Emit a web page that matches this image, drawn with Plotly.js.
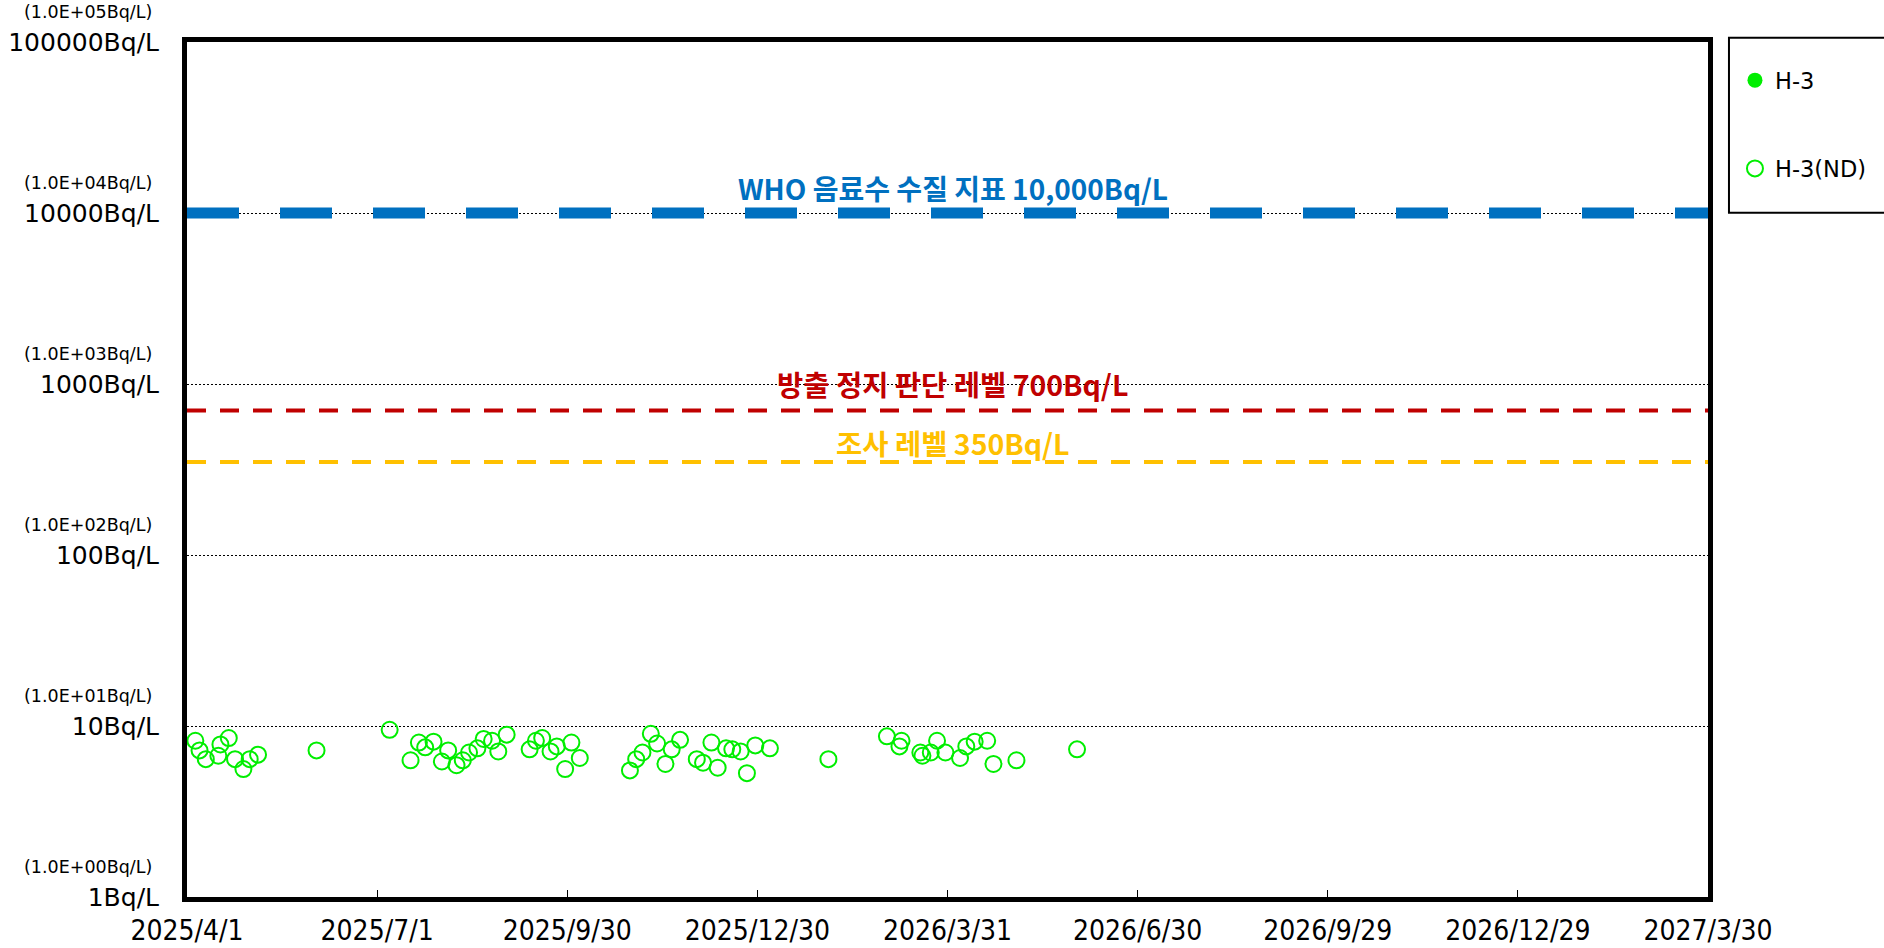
<!DOCTYPE html>
<html>
<head>
<meta charset="utf-8">
<script src="https://cdn.plot.ly/plotly-3.0.1.min.js"></script>
<style>
  html, body { margin: 0; padding: 0; background: #fff; }
  #chart { width: 1884px; height: 948px; }
</style>
</head>
<body>
<div id="chart"></div>
<script>
// ---------- data ----------
const ndDates = [
  '2025-04-05','2025-04-07','2025-04-10','2025-04-16','2025-04-17','2025-04-21','2025-04-24','2025-04-28',
  '2025-05-01','2025-05-05','2025-06-02','2025-07-07','2025-07-17','2025-07-21','2025-07-24','2025-07-28',
  '2025-08-01','2025-08-04','2025-08-08','2025-08-11','2025-08-14','2025-08-18','2025-08-21','2025-08-25',
  '2025-08-28','2025-09-01','2025-09-12','2025-09-15','2025-09-18','2025-09-22','2025-09-25','2025-09-29',
  '2025-10-02','2025-10-06','2025-10-30','2025-11-02','2025-11-05','2025-11-09','2025-11-12','2025-11-16',
  '2025-11-19','2025-11-23','2025-12-01','2025-12-04','2025-12-08','2025-12-11','2025-12-15','2025-12-18',
  '2025-12-22','2025-12-25','2025-12-29','2026-01-05','2026-02-02','2026-03-02','2026-03-08','2026-03-09',
  '2026-03-18','2026-03-19','2026-03-23','2026-03-26','2026-03-30','2026-04-06','2026-04-09','2026-04-13',
  '2026-04-19','2026-04-22','2026-05-03','2026-06-01'
];
const ndValues = [
  8.2, 7.2, 6.4, 6.7, 7.8, 8.5, 6.4, 5.6,
  6.4, 6.8, 7.2, 9.5, 6.3, 8.0, 7.5, 8.1,
  6.2, 7.2, 5.9, 6.3, 7.0, 7.4, 8.4, 8.2,
  7.1, 8.9, 7.3, 8.2, 8.5, 7.1, 7.6, 5.6,
  8.0, 6.5, 5.5, 6.4, 7.0, 9.0, 7.9, 6.0,
  7.3, 8.3, 6.4, 6.1, 8.0, 5.7, 7.4, 7.3,
  7.1, 5.3, 7.7, 7.4, 6.4, 8.7, 7.6, 8.2,
  7.0, 6.7, 7.0, 8.2, 7.0, 6.5, 7.6, 8.1,
  8.2, 6.0, 6.3, 7.3
];
// detected H-3 values (none detected in this period)
const detDates = [null];
const detValues = [null];

const seriesNames = ['H-3', 'H-3(ND)'];

const xRange = ['2025-04-01', '2027-03-30'];
const xTickVals = ['2025-04-01','2025-07-01','2025-09-30','2025-12-30','2026-03-31','2026-06-30','2026-09-29','2026-12-29','2027-03-30'];
const xTickText = ['2025/4/1','2025/7/1','2025/9/30','2025/12/30','2026/3/31','2026/6/30','2026/9/29','2026/12/29','2027/3/30'];

const yTickVals = [1, 10, 100, 1000, 10000, 100000];
const yTickText = ['1Bq/L','10Bq/L','100Bq/L','1000Bq/L','10000Bq/L','100000Bq/L'];
const yTickSub = ['(1.0E+00Bq/L)','(1.0E+01Bq/L)','(1.0E+02Bq/L)','(1.0E+03Bq/L)','(1.0E+04Bq/L)','(1.0E+05Bq/L)'];

const levelValues = [10000, 700, 350];
const levelLabels = ['WHO 음료수 수질 지표 10,000Bq/L', '방출 정지 판단 레벨 700Bq/L', '조사 레벨 350Bq/L'];

// ---------- styles ----------
const green = '#00EE00';
const levelColors = ['#0070C0', '#C00000', '#FFC000'];
const levelWidths = [11, 4, 4];
const levelDashes = ['52px,41px', '19px,14px', '19px,14px'];
const levelTextShift = [25, 27, 19];
const levelTextSize = [28, 28.5, 28.5];

const tickFont = 'DejaVu Sans, Liberation Sans, sans-serif';
const xTickFont = 'Liberation Sans Narrow, DejaVu Sans Condensed, Liberation Sans, sans-serif';
const korFont = 'Noto Sans CJK KR, sans-serif';

// ---------- traces ----------
const traces = [];
traces.push({
  type: 'scatter', mode: 'markers', name: seriesNames[0],
  x: detDates, y: detValues,
  marker: { symbol: 'circle', size: 15, color: green },
  legendgroup: 'g1'
});
traces.push({
  type: 'scatter', mode: 'markers', name: seriesNames[1],
  x: ndDates, y: ndValues,
  marker: { symbol: 'circle-open', size: 16, color: green, line: { width: 2, color: green } },
  legendgroup: 'g2'
});
levelValues.forEach((v, i) => {
  traces.push({
    type: 'scatter', mode: 'lines', showlegend: false, hoverinfo: 'skip',
    x: [xRange[0], xRange[1]], y: [v, v],
    line: { color: levelColors[i], width: levelWidths[i], dash: levelDashes[i] }
  });
});

// ---------- layout ----------
const L = 187, R = 174, T = 42, B = 51;
const W = 1884, H = 948;
const pw = W - L - R, ph = H - T - B;
const px2paperX = (x) => (x - L) / pw;
const px2paperY = (y) => (H - B - y) / ph;

const annotations = [];
yTickVals.forEach((v, i) => {
  annotations.push({
    xref: 'paper', yref: 'y', x: 0, y: Math.log10(v),
    xanchor: 'right', yanchor: 'middle', xshift: -33, yshift: 30,
    text: yTickSub[i], showarrow: false,
    font: { family: tickFont, size: 17.5, color: '#000' }
  });
});
levelValues.forEach((v, i) => {
  annotations.push({
    xref: 'paper', yref: 'y', x: px2paperX(954), y: Math.log10(v),
    xanchor: 'center', yanchor: 'middle', yshift: levelTextShift[i],
    text: '<b>' + levelLabels[i] + '</b>', showarrow: false,
    font: { family: korFont, size: levelTextSize[i], color: levelColors[i] }
  });
});

const shapes = [{
  type: 'rect', xref: 'paper', yref: 'paper',
  x0: px2paperX(1731), x1: px2paperX(1890),
  y0: px2paperY(212.7), y1: px2paperY(37.7),
  line: { color: '#000', width: 2 }, fillcolor: 'rgba(0,0,0,0)'
}];

const layout = {
  width: W, height: H,
  margin: { l: L, r: R, t: T, b: B, pad: 0 },
  paper_bgcolor: '#fff', plot_bgcolor: '#fff',
  showlegend: true,
  hovermode: false,
  xaxis: {
    type: 'date', range: xRange,
    tickmode: 'array', tickvals: xTickVals, ticktext: xTickText,
    ticks: 'inside', ticklen: 7, tickwidth: 1, tickcolor: '#000',
    showgrid: false, zeroline: false,
    showline: true, linecolor: '#000', linewidth: 5, mirror: true,
    tickfont: { family: xTickFont, size: 28, color: '#000' },
    ticklabelstandoff: 4
  },
  yaxis: {
    type: 'log', range: [0, 5],
    tickmode: 'array', tickvals: yTickVals, ticktext: yTickText,
    ticks: '', showgrid: true, gridcolor: '#000', gridwidth: 1, griddash: '2px,2px',
    zeroline: false,
    showline: true, linecolor: '#000', linewidth: 5, mirror: true,
    tickfont: { family: tickFont, size: 25, color: '#000' },
    ticklabelstandoff: 18
  },
  legend: {
    x: px2paperX(1737), y: px2paperY(59), xanchor: 'left', yanchor: 'top',
    bgcolor: 'rgba(0,0,0,0)', borderwidth: 0,
    traceorder: 'grouped', tracegroupgap: 56,
    itemwidth: 30,
    font: { family: tickFont, size: 22.5, color: '#000' }
  },
  annotations: annotations,
  shapes: shapes
};

Plotly.newPlot('chart', traces, layout, { displayModeBar: false, staticPlot: true });
</script>
</body>
</html>
